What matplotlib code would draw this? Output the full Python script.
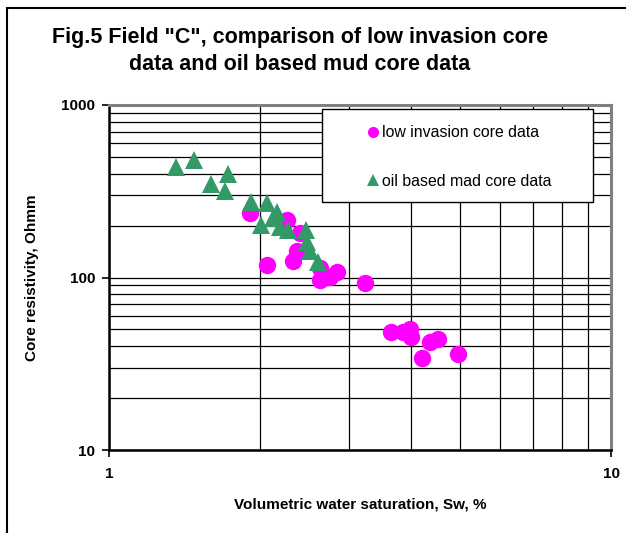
import matplotlib
matplotlib.use("Agg")
import matplotlib.pyplot as plt
from matplotlib.patches import Rectangle
from matplotlib.lines import Line2D
from matplotlib.ticker import LogLocator, NullFormatter, FixedLocator, FixedFormatter

plt.rcParams['font.family'] = ['Liberation Sans', 'DejaVu Sans']

# Data
low_inv_sw = [1.91, 2.26, 2.40, 2.37, 2.33, 2.06, 2.63, 2.63, 2.76, 2.85, 3.24,
              3.65, 3.85, 3.98, 4.00, 4.36, 4.52, 4.20, 4.96]
low_inv_res = [237, 215, 181, 142, 125, 118, 114, 97, 101, 108, 93,
               48, 48, 50, 45, 42, 44, 34, 36]

obm_sw = [1.36, 1.48, 1.60, 1.73, 1.70, 1.92, 2.06, 2.16, 2.01, 2.19, 2.27,
          2.47, 2.48, 2.51, 2.61, 2.12]
obm_res = [437, 480, 348, 398, 317, 274, 270, 240, 201, 196, 188,
           188, 161, 142, 123, 221]

x_ticks = [1, 10]
x_tick_labels = ["1", "10"]
y_ticks = [10, 100, 1000]
y_tick_labels = ["10", "100", "1000"]

title = 'Fig.5 Field "C", comparison of low invasion core\ndata and oil based mud core data'
xlabel = "Volumetric water saturation, Sw, %"
ylabel = "Core resistivity, Ohmm"
label_low = "low invasion core data"
label_obm = "oil based mad core data"

W, H = 626, 533
fig = plt.figure(figsize=(W / 100, H / 100), dpi=100)

# Outer chart frame
fig.patches.append(Rectangle((7 / W, -0.1), 1.2, 1 - 8 / H + 0.1, transform=fig.transFigure,
                             fill=False, edgecolor='black', linewidth=1.5, zorder=0))

ax = fig.add_axes([109 / W, 1 - 450 / H, (611 - 109) / W, (450 - 105) / H])
ax.set_xscale('log')
ax.set_yscale('log')
ax.set_xlim(1, 10)
ax.set_ylim(10, 1000)

ax.xaxis.set_major_locator(FixedLocator(x_ticks))
ax.xaxis.set_major_formatter(FixedFormatter(x_tick_labels))
ax.yaxis.set_major_locator(FixedLocator(y_ticks))
ax.yaxis.set_major_formatter(FixedFormatter(y_tick_labels))
ax.xaxis.set_minor_locator(LogLocator(base=10, subs=range(2, 10)))
ax.yaxis.set_minor_locator(LogLocator(base=10, subs=range(2, 10)))
ax.xaxis.set_minor_formatter(NullFormatter())
ax.yaxis.set_minor_formatter(NullFormatter())

ax.grid(True, which='both', color='black', linewidth=0.9)
ax.set_axisbelow(True)
ax.tick_params(which='minor', length=0)
ax.tick_params(which='major', length=5, width=1.2, direction='out', labelsize=11)
ax.tick_params(axis='x', pad=7)
ax.tick_params(axis='y', pad=5)
for lbl in ax.get_xticklabels() + ax.get_yticklabels():
    lbl.set_fontweight('bold')

for side in ['left', 'bottom']:
    ax.spines[side].set_color('black')
    ax.spines[side].set_linewidth(1.8)
for side in ['top', 'right']:
    ax.spines[side].set_color('#808080')
    ax.spines[side].set_linewidth(2.2)

ax.plot(low_inv_sw, low_inv_res, linestyle='none', marker='o', markersize=12.5,
        color='#FF00FF', markeredgewidth=0, zorder=3)
ax.plot(obm_sw, obm_res, linestyle='none', marker='^', markersize=12.5,
        color='#339966', markeredgewidth=0, zorder=4)

# Legend box
box_x0, box_x1 = (322 - 109) / 502, (593 - 109) / 502
box_y0, box_y1 = (450 - 202) / 345, (450 - 109) / 345
ax.add_patch(Rectangle((box_x0, box_y0), box_x1 - box_x0, box_y1 - box_y0,
                       transform=ax.transAxes, facecolor='white', edgecolor='black',
                       linewidth=1.0, zorder=5))
handles = [Line2D([], [], linestyle='none', marker='o', markersize=8, color='#FF00FF', markeredgewidth=0),
           Line2D([], [], linestyle='none', marker='^', markersize=8, color='#339966', markeredgewidth=0)]
leg = ax.legend(handles, [label_low, label_obm], loc='center',
                bbox_to_anchor=((box_x0 + box_x1) / 2 + 0.003, (box_y0 + box_y1) / 2 - 0.004),
                bbox_transform=ax.transAxes, frameon=False, fontsize=11.4,
                handlelength=0.8, handletextpad=0.15, labelspacing=2.1, borderpad=0)
leg.set_zorder(6)

ax.set_xlabel(xlabel, fontsize=11, fontweight='bold', labelpad=12)
ax.set_ylabel(ylabel, fontsize=11, fontweight='bold', labelpad=16)

fig.text(300 / W, 1 - 51 / H, title, ha='center', va='center', fontsize=15.5,
         fontweight='bold', linespacing=1.4, multialignment='center')

fig.savefig('out.png', dpi=100)
